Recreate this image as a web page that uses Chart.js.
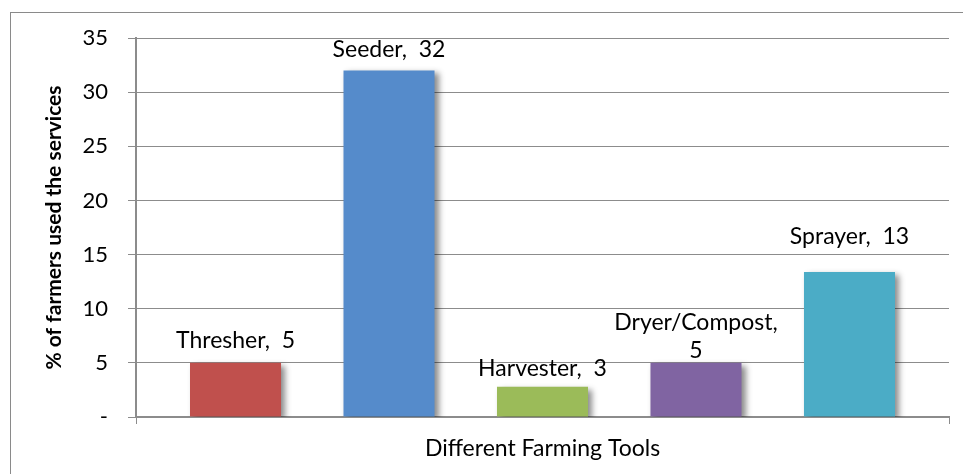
<!DOCTYPE html>
<html>
<head>
<meta charset="utf-8">
<script src="https://cdn.jsdelivr.net/npm/chart.js@4.4.0/dist/chart.umd.min.js"></script>
<style>
  html, body { margin: 0; padding: 0; background: #ffffff; }
  #wrap { width: 963px; height: 474px; }
</style>
</head>
<body>
<div id="wrap"><canvas id="c" width="963" height="474"></canvas></div>
<script>
// ---- Data ----
const categories = ['Different Farming Tools'];
const tools = ['Thresher', 'Seeder', 'Harvester', 'Dryer/Compost', 'Sprayer'];
const values = [5.0, 32.0, 2.8, 5.0, 13.4];
const shownValues = ['5', '32', '3', '5', '13'];
const yTicks = [0, 5, 10, 15, 20, 25, 30, 35];

// ---- Styles ----
const barColors = ['#C0504D', '#558BCB', '#9BBB59', '#8064A2', '#4BACC6'];
const labelGaps = [22, 20, 18, 12, 35];
const FONT = 'Lato, "Open Sans", "Liberation Sans", sans-serif';
const GRID = '#8c8c8c';

const datasets = tools.map((t, i) => ({
  label: t,
  data: [values[i]],
  backgroundColor: barColors[i],
  borderWidth: 0,
  categoryPercentage: 0.944,
  barPercentage: 0.593
}));

const framePlugin = {
  id: 'frame',
  beforeDraw(chart) {
    const ctx = chart.ctx;
    ctx.save();
    ctx.fillStyle = '#ffffff';
    ctx.fillRect(0, 0, chart.width, chart.height);
    ctx.strokeStyle = '#8a8a8a';
    ctx.lineWidth = 1;
    ctx.strokeRect(10.5, 12.5, 1000, 1000);
    ctx.restore();
  }
};

const shadowPlugin = {
  id: 'barShadow',
  beforeDatasetsDraw(chart) {
    const ctx = chart.ctx;
    ctx.save();
    ctx.shadowColor = 'rgba(0,0,0,0.45)';
    ctx.shadowBlur = 6;
    ctx.shadowOffsetX = 4;
    ctx.shadowOffsetY = 3;
  },
  afterDatasetsDraw(chart) {
    chart.ctx.restore();
    const ctx = chart.ctx;
    ctx.save();
    ctx.fillStyle = '#000000';
    ctx.font = '23px ' + FONT;
    ctx.textAlign = 'center';
    ctx.textBaseline = 'bottom';
    chart.data.datasets.forEach((ds, i) => {
      const meta = chart.getDatasetMeta(i);
      const bar = meta.data[0];
      const text = tools[i] + ',  ' + shownValues[i];
      let lines = [text];
      if (ctx.measureText(text).width > 150) lines = [tools[i] + ',', shownValues[i]];
      const baseY = bar.y - labelGaps[i] + 11;
      for (let k = 0; k < lines.length; k++) {
        ctx.fillText(lines[k], bar.x, baseY - (lines.length - 1 - k) * 28);
      }
    });
    ctx.restore();
  }
};

new Chart(document.getElementById('c'), {
  type: 'bar',
  data: { labels: categories, datasets },
  plugins: [framePlugin, shadowPlugin],
  options: {
    responsive: false,
    animation: false,
    devicePixelRatio: 1,
    layout: { padding: { left: 0, right: 14, top: 38, bottom: 0 } },
    plugins: { legend: { display: false }, tooltip: { enabled: false } },
    scales: {
      x: {
        afterFit(scale) { scale.height = 57; },
        grid: { offset: true, drawOnChartArea: false, drawTicks: true, tickLength: 7, color: GRID, lineWidth: 1 },
        border: { display: true, color: GRID, width: 2 },
        ticks: { color: '#000000', font: { family: FONT, size: 23 }, padding: 11 }
      },
      y: {
        min: 0, max: 35,
        afterFit(scale) { scale.width = 136; },
        afterBuildTicks(scale) { scale.ticks = yTicks.map(v => ({ value: v })); },
        grid: { color: GRID, lineWidth: 1, tickLength: 8 },
        border: { display: true, color: GRID, width: 2 },
        ticks: {
          color: '#000000', font: { family: FONT, size: 22 }, padding: 20,
          callback: v => (v === 0 ? '-' : String(v))
        },
        title: {
          display: true, text: '% of farmers used the services', color: '#000000',
          font: { family: FONT, size: 21, weight: 'bold' }, padding: { top: 42, bottom: 0 }
        }
      }
    }
  }
});
</script>
</body>
</html>
